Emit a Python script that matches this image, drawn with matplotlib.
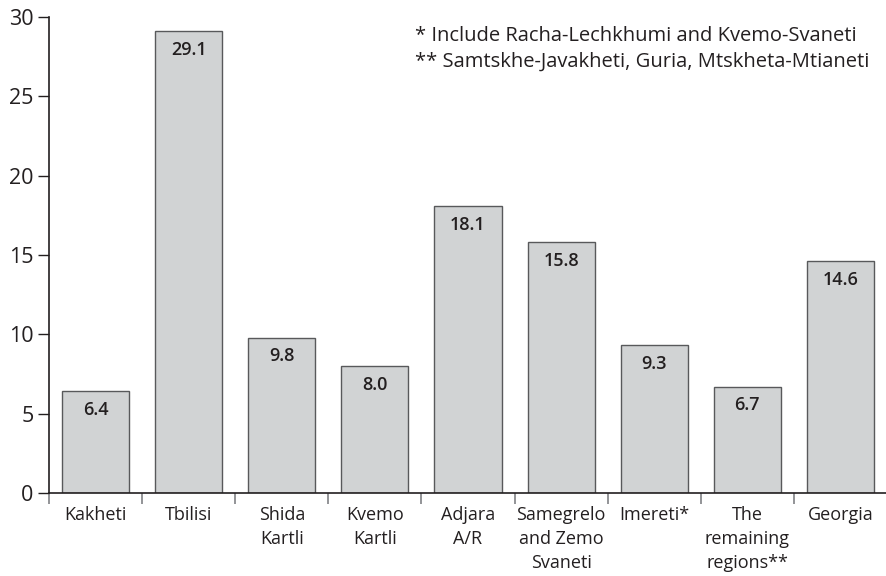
import numpy as np
import matplotlib.pyplot as plt

# region names and values
regions = ["Kakheti", "Tbilisi", "Shida\nKartli", "Kvemo\nKartli", "Adjara\nA/R",
           "Samegrelo\nand Zemo\nSvaneti", "Imereti*", "The\nremaining\nregions**", "Georgia"]
values = [6.4, 29.1, 9.8, 8.0, 18.1, 15.8, 9.3, 6.7, 14.6]
notes = ["* Include Racha-Lechkhumi and Kvemo-Svaneti",
         "** Samtskhe-Javakheti, Guria, Mtskheta-Mtianeti"]

plt.rcParams['font.family'] = ['Open Sans', 'DejaVu Sans']
txt = '#231f20'

fig = plt.figure(figsize=(8.87, 5.76), dpi=100)
ax = fig.add_axes([49/887, 1-493/576, 1-49/887, (493-17)/576])

x = np.arange(len(values))
ax.bar(x, values, width=0.72, color='#d1d3d4', edgecolor='#58595b', linewidth=1.0, zorder=2)

#value labels just under the top of each bar
for xi, v in zip(x, values):
    ax.annotate(f"{v:.1f}", (xi, v), xytext=(0, -7), textcoords='offset points',
                ha='center', va='top', fontsize=13, fontweight='semibold', color=txt)

ax.set_xlim(-0.5, 8.5)
ax.set_ylim(0, 30)
ax.set_yticks([0, 5, 10, 15, 20, 25, 30])
ax.tick_params(axis='y', direction='out', length=8, width=1, color=txt, labelsize=15.5,
               labelcolor=txt, pad=3)

#ticks at category boundaries, labels at centres
ax.set_xticks(np.arange(-0.5, 8, 1.0))
ax.set_xticklabels([])
ax.tick_params(axis='x', direction='out', length=8, width=1.2, color='#808285')
ax.set_xticks(x, minor=True)
ax.set_xticklabels(regions, minor=True, fontsize=13, color=txt, va='top', linespacing=1.45)
ax.tick_params(axis='x', which='minor', length=0, pad=9)

for s in ['top', 'right']:
    ax.spines[s].set_visible(False)
ax.spines['left'].set_color(txt)
ax.spines['bottom'].set_color(txt)
ax.spines['left'].set_linewidth(1.2)
ax.spines['bottom'].set_linewidth(1.2)

fig.text(415/887, 1-26/576, notes[0] + "\n" + notes[1], ha='left', va='top',
         fontsize=14.5, color=txt, linespacing=1.35)

fig.savefig("out.png", dpi=100)
